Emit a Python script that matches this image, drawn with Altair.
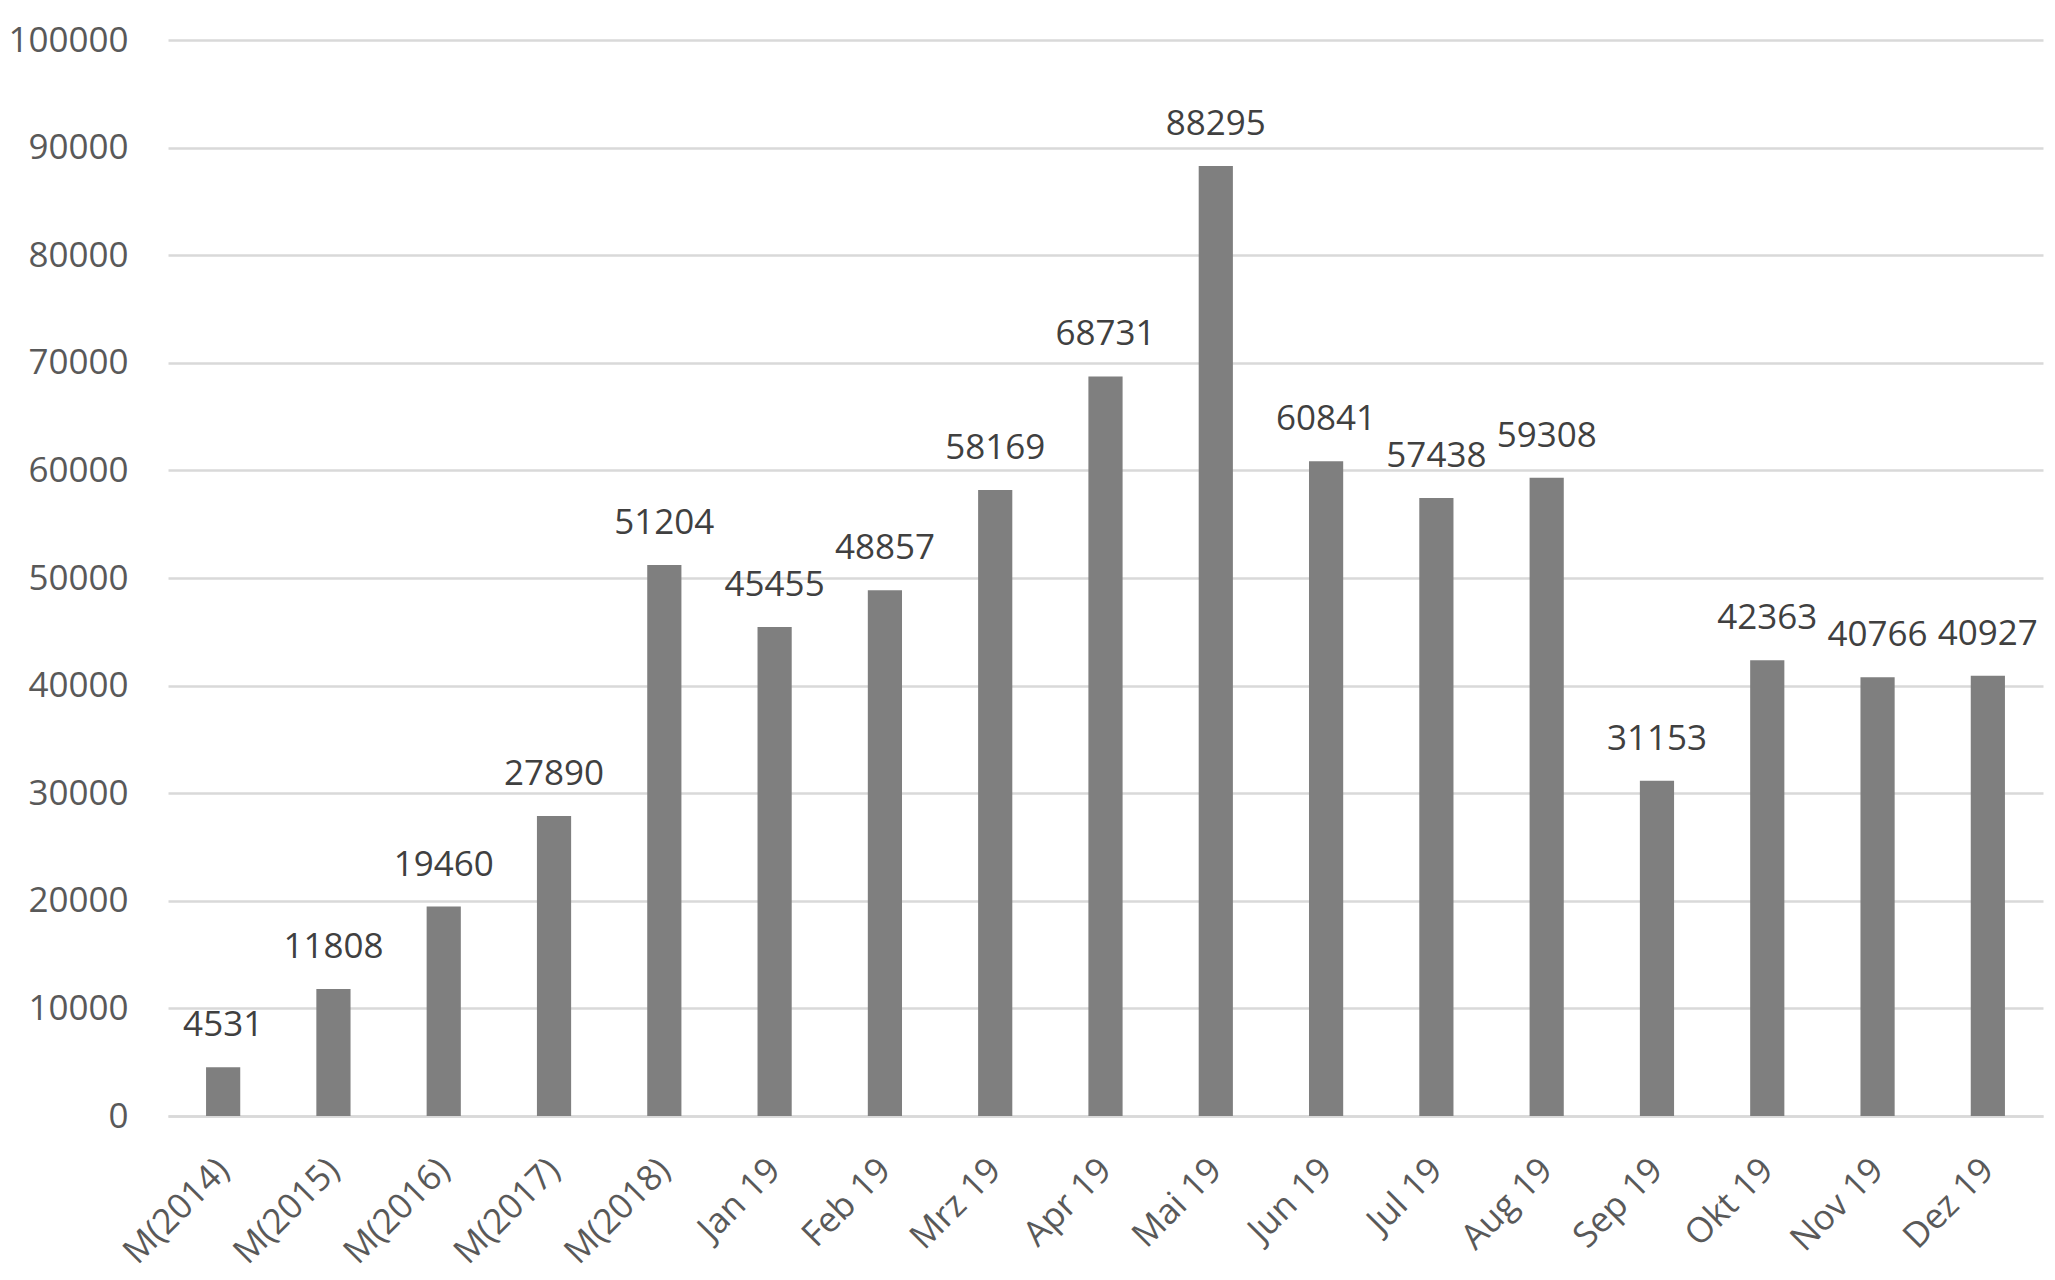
import altair as alt
import pandas as pd

categories = ["M(2014)", "M(2015)", "M(2016)", "M(2017)", "M(2018)",
              "Jan 19", "Feb 19", "Mrz 19", "Apr 19", "Mai 19", "Jun 19",
              "Jul 19", "Aug 19", "Sep 19", "Okt 19", "Nov 19", "Dez 19"]
values = [4531, 11808, 19460, 27890, 51204, 45455, 48857, 58169, 68731,
          88295, 60841, 57438, 59308, 31153, 42363, 40766, 40927]
y_ticks = list(range(0, 100001, 10000))

df = pd.DataFrame({"cat": categories, "val": values})

FONT = "Open Sans"

x_enc = alt.X("cat:N", sort=categories, title=None,
              scale=alt.Scale(paddingInner=0.69, paddingOuter=0.345),
              axis=alt.Axis(labelAngle=315, labelAlign="right", labelBaseline="top",
                            labelPadding=36, labelOffset=-12, ticks=False, tickSize=0,
                            domain=True, domainColor="#d9d9d9", domainWidth=2.5,
                            grid=False, labelFont=FONT, labelFontSize=35,
                            labelColor="#595959"))
y_enc = alt.Y("val:Q", title=None,
              scale=alt.Scale(domain=[0, 100000], nice=False),
              axis=alt.Axis(values=y_ticks, format="d", ticks=False, tickSize=0,
                            domain=False, grid=True, gridColor="#d9d9d9",
                            gridWidth=2.5, labelPadding=40, labelFont=FONT,
                            labelFontSize=35, labelColor="#595959"))

bars = alt.Chart(df).mark_bar(color="#7f7f7f").encode(x=x_enc, y=y_enc)
labels = alt.Chart(df).mark_text(
    font=FONT, fontSize=35, color="#404040", baseline="alphabetic",
    align="center", dy=-31
).encode(x=alt.X("cat:N", sort=categories), y="val:Q", text="val:Q")

chart = alt.layer(bars, labels).properties(
    width=1875, height=1076,
    autosize=alt.AutoSizeParams(type="none"),
    padding={"left": 160, "top": 32, "right": 4, "bottom": 156},
    background="white",
).configure_view(stroke=None, strokeWidth=0)

chart.save("out.html", embed_options={"renderer": "svg", "actions": False})
